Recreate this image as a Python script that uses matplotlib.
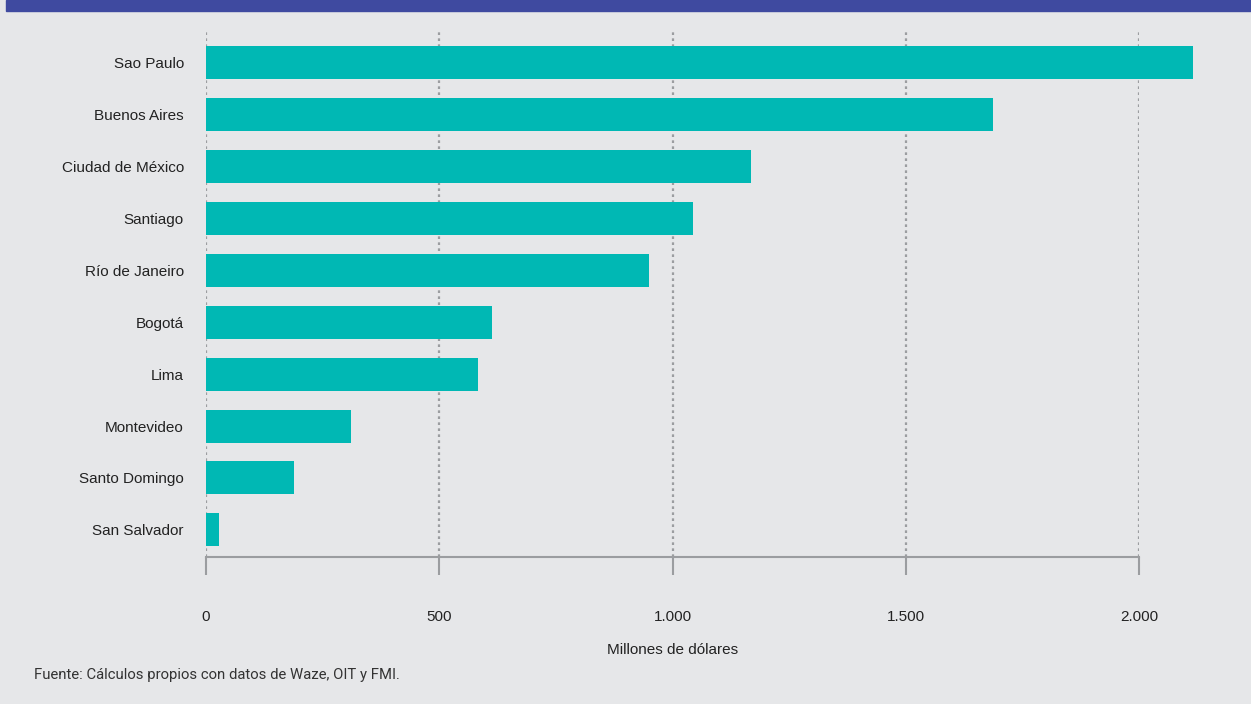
import matplotlib.pyplot as plt
from matplotlib.patches import Rectangle

ciudades = ["Sao Paulo", "Buenos Aires", "Ciudad de México", "Santiago",
            "Río de Janeiro", "Bogotá", "Lima", "Montevideo",
            "Santo Domingo", "San Salvador"]
valores = [2116, 1687, 1168, 1044, 950, 613, 583, 311, 189, 28]
ticks_x = [0, 500, 1000, 1500, 2000]
etiquetas_x = ["0", "500", "1.000", "1.500", "2.000"]

fondo = "#E6E7E9"
gris = "#9B9DA0"

fig = plt.figure(figsize=(12.51, 7.04), dpi=100, facecolor=fondo)
# franja azul superior
fig.patches.append(Rectangle((6 / 1251, 1 - 11 / 704), 1, 11 / 704,
                             transform=fig.transFigure, color="#3F4AA0", zorder=0))

ax = fig.add_axes([206 / 1251, 1 - 557 / 704, 933 / 1251, 525 / 704])
ax.set_facecolor(fondo)

pos = list(range(len(ciudades)))
ax.barh(pos, valores, height=0.635, color="#00B8B4", zorder=3, clip_on=False)

ax.set_xlim(0, 2000)
ax.set_ylim(9.52, -0.58)
ax.set_yticks(pos)
ax.set_yticklabels(ciudades, fontsize=11, family="Liberation Sans", color="#222222")
ax.tick_params(axis="y", length=0, pad=16)

ax.set_xticks(ticks_x)
ax.set_xticklabels(etiquetas_x, fontsize=11, family="Liberation Sans", color="#222222")
ax.tick_params(axis="x", length=13, width=1.5, color=gris, pad=25)

ax.grid(axis="x", linestyle=(0, (1.2, 1.5)), color=gris, linewidth=1.6, zorder=1)
for lado in ["left", "right", "top"]:
    ax.spines[lado].set_visible(False)
ax.spines["bottom"].set_color(gris)
ax.spines["bottom"].set_linewidth(1.5)

ax.set_xlabel("Millones de dólares", fontsize=11, family="Liberation Sans",
              color="#222222", labelpad=14)

fig.text(34 / 1251, 1 - 675 / 704, "Fuente: Cálculos propios con datos de Waze, OIT y FMI.",
         fontsize=10.7, family="Roboto", color="#333333", va="center")

plt.savefig("out.png", dpi=100, facecolor=fondo)
